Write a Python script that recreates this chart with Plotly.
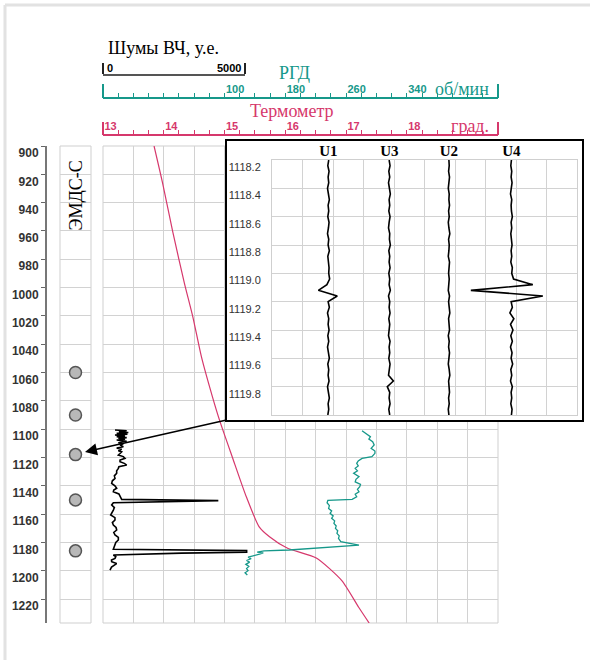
import plotly.graph_objects as go

W, H = 590, 660


def px_x(p):
    return p / W


def px_y(p):
    return 1 - p / H


TEAL = "#16988a"
CRIMSON = "#d6386c"
SERIF = "Liberation Serif"
SANS = "Liberation Sans"

# ---------------- data ----------------
emds_depth = [1060, 1090, 1118, 1150, 1186]

temp_depth = [900, 926, 961, 997, 1021, 1049, 1077, 1094, 1120, 1148, 1169, 1176, 1184, 1191, 1207, 1226, 1237]
temp_vals = [13.84, 13.98, 14.15, 14.34, 14.48, 14.62, 14.80, 14.92, 15.13, 15.36, 15.57, 15.74, 16.03, 16.51,
             16.93, 17.21, 17.38]

rgd_depth = [1101.1, 1103.0, 1105.4, 1107.0, 1108.9, 1111.2, 1113.6, 1115.5, 1117.1, 1119.5, 1120.7, 1122.5,
             1124.2, 1126.0, 1127.7, 1129.5, 1131.2, 1133.6, 1135.5, 1137.2, 1139.0, 1140.7, 1142.5, 1144.2,
             1146.0, 1147.8, 1149.6, 1150.3, 1152.0, 1154.0, 1156.0, 1157.8, 1159.5, 1161.3, 1163.0, 1164.8,
             1166.6, 1168.4, 1170.1, 1171.8, 1173.6, 1175.4, 1177.2, 1179.5, 1181.9, 1185.4, 1186.0, 1186.9,
             1187.4, 1188.3, 1189.5, 1190.5, 1191.5, 1192.8, 1194.0, 1195.5, 1197.0, 1198.5, 1200.0, 1201.5,
             1203.1]
rgd_vals = [281, 286, 292, 290, 295, 297, 293, 298, 298, 294, 281, 276,
            274, 276, 272, 275, 270, 277, 273, 272, 279, 278, 275, 277,
            272, 274, 268, 236, 235, 238, 237, 241, 239, 243, 241, 245,
            244, 247, 246, 249, 248, 251, 250, 253, 277, 185, 152, 143,
            151, 146, 136, 131, 135, 129, 133, 128, 132, 129, 131, 127,
            130]

noise_depth = [1100.6, 1101.2, 1101.8, 1102.4, 1103.0, 1103.6, 1104.2, 1104.8, 1105.4, 1106.0, 1106.5, 1107.1,
               1107.7, 1108.6, 1109.6, 1110.4, 1111.2, 1112.4, 1113.3, 1114.3, 1115.2, 1116.0, 1117.2, 1118.3,
               1119.4, 1120.6, 1121.8, 1123.0, 1124.2, 1125.4, 1126.5, 1127.7, 1129.5, 1131.2, 1133.0, 1134.8,
               1136.5, 1138.3, 1140.0, 1141.8, 1143.0, 1144.2, 1145.8, 1147.3, 1149.6, 1150.5, 1151.0, 1151.4,
               1152.0, 1153.6, 1155.4, 1157.2, 1159.0, 1160.7, 1162.5, 1164.2, 1166.0, 1167.7, 1169.5, 1171.3,
               1173.0, 1174.8, 1176.5, 1178.3, 1180.0, 1181.9, 1184.9, 1185.8, 1187.0, 1187.6, 1188.2, 1188.9,
               1190.0, 1191.3, 1192.5, 1193.7, 1195.0, 1196.0, 1197.5, 1199.6]
noise_vals = [423, 834, 560, 892, 482, 860, 423, 775, 482, 834, 540, 775,
              482, 834, 540, 716, 600, 716, 482, 657, 540, 657, 599, 540,
              716, 775, 600, 599, 750, 834, 560, 540, 480, 482, 400, 423,
              330, 305, 420, 482, 380, 364, 560, 599, 657, 4061, 2770, 900,
              364, 305, 400, 364, 300, 270, 420, 423, 330, 364, 460, 482,
              380, 423, 540, 540, 450, 423, 364, 5058, 5058, 2770, 1479, 364,
              450, 423, 300, 305, 480, 423, 300, 246]

inset_depth = [1118.20, 1118.24, 1118.28, 1118.32, 1118.36, 1118.40, 1118.44, 1118.48, 1118.52, 1118.56,
               1118.60, 1118.64, 1118.68, 1118.72, 1118.76, 1118.80, 1118.84, 1118.88, 1118.92, 1118.96,
               1119.00, 1119.04, 1119.08, 1119.12, 1119.16, 1119.20, 1119.24, 1119.28, 1119.32, 1119.36,
               1119.40, 1119.44, 1119.48, 1119.52, 1119.56, 1119.60, 1119.64, 1119.68, 1119.72, 1119.76,
               1119.80, 1119.84, 1119.88, 1119.92, 1119.96, 1120.00]
u1_vals = [1.86, 1.83, 1.87, 1.84, 1.86, 1.82, 1.85, 1.88, 1.84, 1.86, 1.83, 1.87, 1.85, 1.82, 1.86, 1.84,
           1.88, 1.83, 1.85, 1.87, 1.86, 1.89, 1.80, 1.52, 2.14, 1.84, 1.88, 1.82, 1.86, 1.84, 1.87, 1.83,
           1.86, 1.82, 1.85, 1.88, 1.83, 1.86, 1.84, 1.87, 1.82, 1.85, 1.88, 1.84, 1.86, 1.83]
u3_vals = [3.84, 3.87, 3.83, 3.86, 3.82, 3.85, 3.88, 3.84, 3.86, 3.83, 3.87, 3.84, 3.82, 3.86, 3.85, 3.88,
           3.83, 3.86, 3.84, 3.87, 3.83, 3.86, 3.84, 3.88, 3.82, 3.86, 3.84, 3.87, 3.83, 3.86, 3.85, 3.82,
           3.87, 3.84, 3.86, 3.83, 3.87, 3.85, 3.82, 3.98, 3.78, 3.86, 3.84, 3.87, 3.83, 3.86]
u2_vals = [5.80, 5.81, 5.79, 5.82, 5.80, 5.78, 5.81, 5.80, 5.82, 5.79, 5.81, 5.78, 5.80, 5.83, 5.79, 5.81,
           5.80, 5.78, 5.82, 5.80, 5.79, 5.81, 5.80, 5.78, 5.82, 5.79, 5.81, 5.83, 5.79, 5.80, 5.82, 5.78,
           5.81, 5.79, 5.82, 5.80, 5.78, 5.81, 5.83, 5.79, 5.80, 5.82, 5.79, 5.81, 5.78, 5.80]
u4_vals = [7.85, 7.83, 7.86, 7.84, 7.87, 7.85, 7.82, 7.86, 7.84, 7.85, 7.88, 7.84, 7.86, 7.83, 7.85, 7.87,
           7.84, 7.86, 7.83, 7.88, 7.86, 7.92, 8.55, 6.52, 8.88, 7.84, 7.88, 7.80, 7.93, 7.82, 7.90, 7.83,
           7.88, 7.82, 7.87, 7.84, 7.89, 7.83, 7.86, 7.82, 7.88, 7.84, 7.86, 7.83, 7.87, 7.85]
inset_names = ["U1", "U3", "U2", "U4"]
inset_series = [u1_vals, u3_vals, u2_vals, u4_vals]
inset_header_pos = [1.85, 3.85, 5.80, 7.85]
inset_ticks = [1118.2, 1118.4, 1118.6, 1118.8, 1119.0, 1119.2, 1119.4, 1119.6, 1119.8]
inset_range_x = [0, 10]
inset_range_y = [1120.0, 1118.2]

temp_labels = [13, 14, 15, 16, 17, 18]
temp_range = [13, 19.5]
rgd_labels = [100, 180, 260, 340]
rgd_range = [-60, 460]
noise_scale = [0, 5000]
noise_range_max = 5000 * (498 - 103) / (245 - 103)
depth_range = [900 + (623 - 146) / (453 / 320), 900]

# ---------------- geometry of the inset (pixels) ----------------
BOX = (227, 582, 141, 420)      # outer black frame: left, right, top, bottom
INSET = (272, 577, 160, 415)    # inner grid
HEADER_Y = 152
ux = (inset_range_x[1] - inset_range_x[0]) / (INSET[1] - INSET[0])
uy = (inset_range_y[0] - inset_range_y[1]) / (INSET[3] - INSET[2])
box_range_x = [inset_range_x[0] - (INSET[0] - BOX[0]) * ux, inset_range_x[1] + (BOX[1] - INSET[1]) * ux]
box_range_y = [inset_range_y[0] + (BOX[3] - INSET[3]) * uy, inset_range_y[1] - (INSET[2] - BOX[2]) * uy]
header_depth = inset_range_y[1] - (INSET[2] - HEADER_Y) * uy

# ---------------- figure ----------------
fig = go.Figure()

fig.add_trace(go.Scatter(x=temp_vals, y=temp_depth, xaxis="x", yaxis="y", mode="lines",
                         line=dict(color=CRIMSON, width=1.2, shape="spline", smoothing=0.6),
                         hoverinfo="skip", showlegend=False))
fig.add_trace(go.Scatter(x=rgd_vals, y=rgd_depth, xaxis="x4", yaxis="y", mode="lines",
                         line=dict(color=TEAL, width=1.3), hoverinfo="skip", showlegend=False))
fig.add_trace(go.Scatter(x=noise_vals, y=noise_depth, xaxis="x8", yaxis="y", mode="lines",
                         line=dict(color="black", width=1.6), hoverinfo="skip", showlegend=False))
fig.add_trace(go.Scatter(x=[0.5] * len(emds_depth), y=emds_depth, xaxis="x10", yaxis="y", mode="markers",
                         marker=dict(size=12, color="#b8b8b8", line=dict(color="#555", width=1.5)),
                         hoverinfo="skip", showlegend=False))
# header labels of the inset, drawn in the framed box subplot
fig.add_trace(go.Scatter(x=inset_header_pos, y=[header_depth] * len(inset_names), xaxis="x2", yaxis="y2",
                         mode="text", text=[f"<b>{n}</b>" for n in inset_names],
                         textfont=dict(family=SERIF, size=15, color="black"), textposition="middle center",
                         hoverinfo="skip", showlegend=False, cliponaxis=False))
for name, vals in zip(inset_names, inset_series):
    fig.add_trace(go.Scatter(x=vals, y=inset_depth, xaxis="x3", yaxis="y3", mode="lines", name=name,
                             line=dict(color="black", width=1.6), hoverinfo="skip", showlegend=False))

grid_vals = [temp_range[0] + 0.5 * i for i in range(14)]
grid_text = [str(int(v)) if v in temp_labels else "" for v in grid_vals]

fig.update_layout(
    width=W, height=H, margin=dict(l=0, r=0, t=0, b=0),
    paper_bgcolor="white", plot_bgcolor="white", showlegend=False,
    xaxis=dict(domain=[px_x(103), px_x(498)], range=temp_range, anchor="free", position=px_y(135),
               side="top", tickmode="array", tickvals=grid_vals, ticktext=grid_text,
               ticks="outside", ticklen=4, tickwidth=1.3, tickcolor=CRIMSON,
               minor=dict(tick0=13, dtick=0.25, ticks="outside", ticklen=4, tickwidth=1.3,
                          tickcolor=CRIMSON, showgrid=False),
               showgrid=True, gridcolor="#d2d2d2", gridwidth=1,
               showline=True, linecolor=CRIMSON, linewidth=1.5, zeroline=False,
               ticklabelposition="outside right",
               tickfont=dict(family=SANS, size=11, color=CRIMSON, weight="bold")),
    yaxis=dict(domain=[px_y(623), px_y(146)], range=depth_range, anchor="free", position=px_x(46),
               side="left", tick0=900, dtick=20, ticks="outside", ticklen=4, tickcolor="#666",
               showline=True, linecolor="#777", linewidth=2, showgrid=True, gridcolor="#d2d2d2",
               zeroline=False, ticklabelshift=-7,
               tickfont=dict(family=SANS, size=12, color="#333", weight="bold")),
    xaxis4=dict(overlaying="x", range=rgd_range, anchor="free", position=px_y(98), side="top",
                tickmode="array", tickvals=rgd_labels, ticks="outside", ticklen=4, tickwidth=1.3,
                tickcolor=TEAL,
                minor=dict(tick0=-60, dtick=20, ticks="outside", ticklen=4, tickwidth=1.3, tickcolor=TEAL),
                showgrid=False, showline=True, linecolor=TEAL, linewidth=1.5, zeroline=False,
                ticklabelposition="outside right",
                tickfont=dict(family=SANS, size=11, color=TEAL, weight="bold")),
    xaxis8=dict(overlaying="x", range=[0, noise_range_max], visible=False),
    xaxis9=dict(domain=[px_x(103), px_x(245)], anchor="y5", side="top", range=noise_scale,
                tickmode="array", tickvals=noise_scale, ticktext=["", ""], ticks="outside", ticklen=11,
                tickwidth=2, tickcolor="#222", showline=True, linecolor="#555", linewidth=1.5,
                showgrid=False, zeroline=False),
    yaxis5=dict(domain=[px_y(80), px_y(76)], anchor="x9", range=[0, 1], visible=False),
    xaxis10=dict(domain=[px_x(60), px_x(91)], anchor="y", range=[0, 1], visible=False),
    xaxis2=dict(domain=[px_x(BOX[0]), px_x(BOX[1])], anchor="y2", range=box_range_x, showline=True,
                mirror=True, linecolor="black", linewidth=2, showgrid=False, zeroline=False,
                showticklabels=False, ticks=""),
    yaxis2=dict(domain=[px_y(BOX[3]), px_y(BOX[2])], anchor="x2", range=box_range_y, showline=True,
                mirror=True, linecolor="black", linewidth=2, showgrid=False, zeroline=False,
                showticklabels=False, ticks=""),
    xaxis3=dict(domain=[px_x(INSET[0]), px_x(INSET[1])], anchor="y3", range=inset_range_x, dtick=1,
                showgrid=True, gridcolor="#d2d2d2", showticklabels=False, ticks="", showline=True,
                mirror=True, linecolor="#cfcfcf", zeroline=False),
    yaxis3=dict(domain=[px_y(INSET[3]), px_y(INSET[2])], anchor="x3", range=inset_range_y,
                tickmode="array", tickvals=inset_ticks, ticktext=[f"{v:.1f}" for v in inset_ticks],
                showgrid=True, gridcolor="#d2d2d2", ticks="", showline=True, mirror=True,
                linecolor="#cfcfcf", zeroline=False, ticklabelshift=-7, ticklabelstandoff=8,
                tickfont=dict(family=SANS, size=11, color="#333")),
)

# frames and scale end bars
shapes = [
    dict(type="rect", xref="x domain", yref="y domain", x0=0, x1=1, y0=0, y1=1,
         line=dict(color="#cfcfcf", width=1), layer="below"),
    dict(type="rect", xref="x10 domain", yref="y domain", x0=0, x1=1, y0=0, y1=1,
         line=dict(color="#cfcfcf", width=1), layer="below"),
    dict(type="line", xref="x domain", yref="paper", x0=0, x1=0, y0=px_y(122), y1=px_y(135),
         line=dict(color=CRIMSON, width=2)),
    dict(type="line", xref="x domain", yref="paper", x0=1, x1=1, y0=px_y(122), y1=px_y(135),
         line=dict(color=CRIMSON, width=2)),
    dict(type="line", xref="x domain", yref="paper", x0=0, x1=0, y0=px_y(84), y1=px_y(98),
         line=dict(color=TEAL, width=2)),
    dict(type="line", xref="x domain", yref="paper", x0=1, x1=1, y0=px_y(84), y1=px_y(98),
         line=dict(color=TEAL, width=2)),
    dict(type="line", xref="paper", yref="paper", x0=px_x(5), x1=1, y0=px_y(5), y1=px_y(5),
         line=dict(color="#e2e2e2", width=3)),
    dict(type="line", xref="paper", yref="paper", x0=px_x(5), x1=px_x(5), y0=px_y(5), y1=0,
         line=dict(color="#e2e2e2", width=3)),
]
fig.update_layout(shapes=shapes)

ann = [
    dict(text="Шумы ВЧ, у.е.", xref="paper", yref="paper", x=px_x(106), y=px_y(48), xanchor="left",
         yanchor="middle", showarrow=False, font=dict(family=SERIF, size=18, color="black")),
    dict(text=str(noise_scale[0]), xref="x9", yref="paper", x=noise_scale[0], y=px_y(68), xanchor="left",
         yanchor="middle", xshift=2, showarrow=False,
         font=dict(family=SANS, size=11, color="black", weight="bold")),
    dict(text=str(noise_scale[1]), xref="x9", yref="paper", x=noise_scale[1], y=px_y(68), xanchor="right",
         yanchor="middle", xshift=-2, showarrow=False,
         font=dict(family=SANS, size=11, color="black", weight="bold")),
    dict(text="РГД", xref="paper", yref="paper", x=px_x(294), y=px_y(73), xanchor="center",
         yanchor="middle", showarrow=False, font=dict(family=SERIF, size=18, color=TEAL)),
    dict(text="об/мин", xref="paper", yref="paper", x=px_x(491), y=px_y(89), xanchor="right",
         yanchor="middle", showarrow=False, font=dict(family=SERIF, size=18, color=TEAL)),
    dict(text="Термометр", xref="paper", yref="paper", x=px_x(292), y=px_y(111), xanchor="center",
         yanchor="middle", showarrow=False, font=dict(family=SERIF, size=18, color=CRIMSON)),
    dict(text="град.", xref="paper", yref="paper", x=px_x(491), y=px_y(126), xanchor="right",
         yanchor="middle", showarrow=False, font=dict(family=SERIF, size=18, color=CRIMSON)),
    dict(text="ЭМДС-С", xref="x10 domain", yref="paper", x=0.5, y=px_y(196), textangle=-90,
         xanchor="center", yanchor="middle", showarrow=False,
         font=dict(family=SERIF, size=18, color="black")),
    dict(text="", xref="paper", yref="paper", x=px_x(85), y=px_y(452), ax=BOX[0] - 85, ay=-(452 - BOX[3]),
         axref="pixel", ayref="pixel", showarrow=True, arrowhead=2, arrowsize=1.6, arrowwidth=1.5,
         arrowcolor="black", standoff=0),
]
fig.update_layout(annotations=ann)

fig.write_html("out.html")
